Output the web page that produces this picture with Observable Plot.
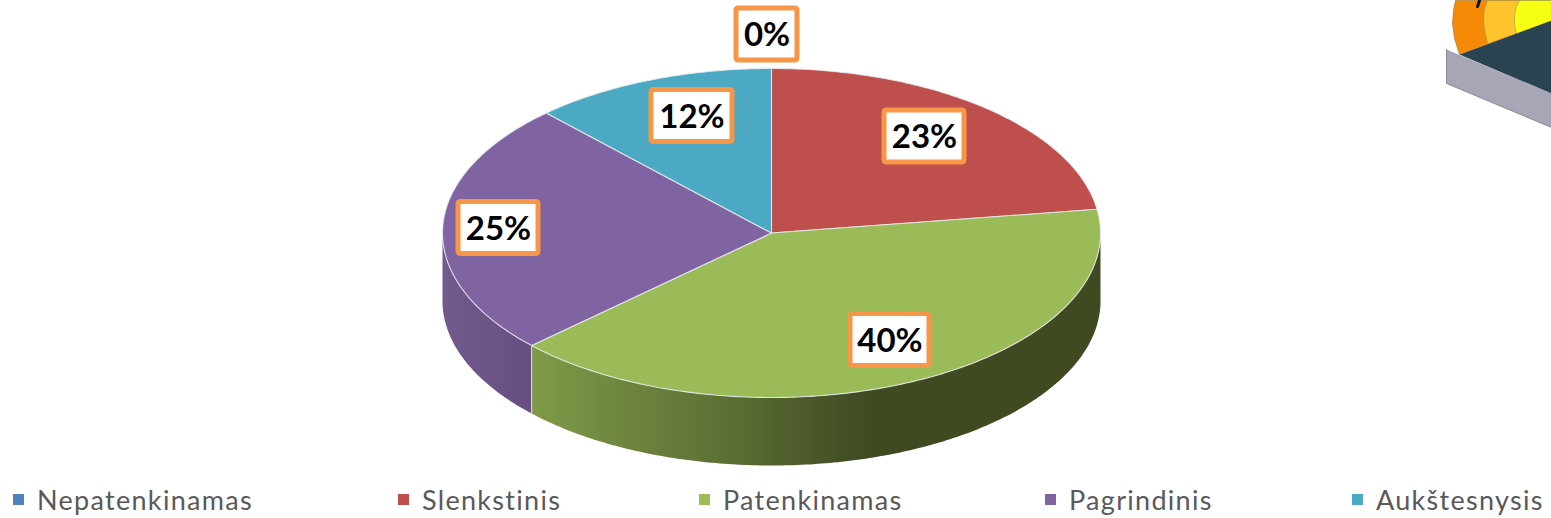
<!DOCTYPE html>
<html>
<head>
<meta charset="utf-8">
<script src="https://cdn.jsdelivr.net/npm/d3@7"></script>
<script src="https://cdn.jsdelivr.net/npm/@observablehq/plot@0.6"></script>
<style>
html,body{margin:0;padding:0;background:#fff;overflow:hidden}
#legend{position:relative;height:38px;font:27px Lato,sans-serif;letter-spacing:1.3px;color:#595959;white-space:nowrap}
#legend span.i{position:absolute;top:0;height:38px;display:flex;align-items:center;gap:13px}
#legend i{display:block;width:11px;height:11px}
</style>
</head>
<body>
<div id="chart"></div>
<div id="legend"></div>
<script>
const categories = ["Nepatenkinamas", "Slenkstinis", "Patenkinamas", "Pagrindinis", "Aukštesnysis"];
const values = [0, 22.7, 40.3, 25, 12];
const colors = ["#4F81BD", "#BE4F4C", "#9BBB59", "#8064A2", "#4BA9C4"];
const legendLeft = [13, 398, 699, 1045, 1352];
const labelX = [766.5, 691.5, 924, 498, 889.5];   // order: 0%,12%,23%,25%,40%
const labelY = [34, 115.5, 136, 227.5, 339.5];
const labelText = ["0%", "12%", "23%", "25%", "40%"];
const labelW = [61, 81, 80, 80, 79];
const labelH = [52, 52, 52, 52, 52];

// Fragment of the neighbouring graphic cropped at the top right corner
const grayPlate = [[1446,49],[1446,83],[1551,127],[1551,93]];
const darkPlate = [[1459,54],[1551,20],[1551,93]];
const orangeBand = [[1459,54],[1454,38],[1452,23],[1453,10],[1455,0],[1551,0],[1551,20]];
const amberBand = [[1487,43],[1484,30],[1483,17],[1484,8],[1487,0],[1551,0],[1551,20]];
const yellowBand = [[1516,33],[1514,24],[1514,15],[1516,6],[1519,0],[1551,0],[1551,20]];

const W = 1551, H = 480;
const cx = 771, cy = 232.5, rx = 329, ry = 164.5, depth = 68;

const pt = (a, dy = 0) => [cx + rx * Math.sin(a), cy - ry * Math.cos(a) + dy];
const arc = (a0, a1, dy = 0) => {
  const n = Math.max(2, Math.ceil(Math.abs(a1 - a0) * 80));
  return d3.range(n + 1).map(i => pt(a0 + (a1 - a0) * i / n, dy));
};
let cum = 0;
const slices = values.map((v, i) => {
  const a0 = cum / 100 * 2 * Math.PI;
  cum += v;
  return {a0, a1: cum / 100 * 2 * Math.PI, color: colors[i], v};
});
const sideStart = Math.PI / 2;
const greenEnd = slices[2].a1;
const sidePolygon = (a0, a1) => [...arc(a0, a1, 0), ...arc(a1, a0, depth)];
const sideGreen = sidePolygon(sideStart, greenEnd);
const sidePurple = sidePolygon(greenEnd, 1.5 * Math.PI);

const poly = (pts, o) => Plot.line(pts, {x: d => d[0], y: d => d[1], ...o});
const topMarks = slices.filter(s => s.v > 0).map(s =>
  poly([[cx, cy], ...arc(s.a0, s.a1), [cx, cy]], {fill: s.color, stroke: "#e8ecf0", strokeWidth: 1.1, strokeOpacity: 0.85})
);

const labels = labelText.map((t, i) => ({t, x: labelX[i], y: labelY[i], w: labelW[i], h: labelH[i]}));

const svg = Plot.plot({
  width: W, height: H,
  margin: 0,
  x: {domain: [0, W], range: [0, W], axis: null},
  y: {domain: [0, H], range: [0, H], axis: null},
  style: {background: "#fff"},
  marks: [
    poly(orangeBand, {fill: "#F58A07", stroke: "#a86a20", strokeWidth: 0.6}),
    poly(amberBand, {fill: "#FFC42B", stroke: "#a88a30", strokeWidth: 0.6}),
    poly(yellowBand, {fill: "#F6FF12", stroke: "#9a9a50", strokeWidth: 0.6}),
    Plot.line([[1477,6],[1479,0]], {x: d => d[0], y: d => d[1], stroke: "#111", strokeWidth: 3}),
    poly(grayPlate, {fill: "#A6A6B6", stroke: "#6f6f78", strokeWidth: 0.7}),
    poly(darkPlate, {fill: "#2A4350"}),
    poly(sidePurple, {fill: "url(#sidePurple)"}),
    poly(sideGreen, {fill: "url(#sideGreen)"}),
    Plot.line([pt(greenEnd), pt(greenEnd, depth)], {x: d => d[0], y: d => d[1], stroke: "#dfe3ea", strokeWidth: 1}),
    ...topMarks,
    Plot.rect(labels, {x1: d => d.x - d.w / 2, x2: d => d.x + d.w / 2, y1: d => d.y - d.h / 2, y2: d => d.y + d.h / 2, fill: "#fff", stroke: "#F79646", strokeWidth: 5, rx: 2}),
    Plot.text(labels, {x: "x", y: d => d.y + 1, text: "t", fontSize: 33, fontWeight: 700, fontFamily: "Lato, sans-serif", fill: "#000"})
  ]
});

const defs = d3.select(svg).append("defs");
const addGrad = (id, x1, x2, stops) => {
  const g = defs.append("linearGradient").attr("id", id).attr("gradientUnits", "userSpaceOnUse")
    .attr("x1", x1).attr("x2", x2).attr("y1", 0).attr("y2", 0);
  stops.forEach(([o, c]) => g.append("stop").attr("offset", o).attr("stop-color", c));
};
addGrad("sideGreen", 532, 868, [[0, "#7F9A48"], [0.55, "#5E7135"], [1, "#3F4A21"]]);
addGrad("sidePurple", 442, 532, [[0, "#735A8E"], [1, "#674E80"]]);

document.getElementById("chart").append(svg);
svg.style.display = "block";

d3.select("#legend").selectAll("span.i").data(categories).join("span").attr("class", "i")
  .style("left", (d, i) => legendLeft[i] + "px")
  .each(function (d, i) {
    const s = d3.select(this);
    s.append("i").style("background", colors[i]);
    s.append("span").text(d);
  });
</script>
</body>
</html>
